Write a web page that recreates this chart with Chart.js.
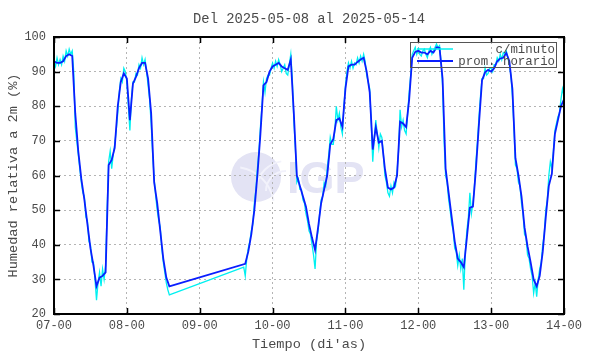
<!DOCTYPE html>
<html>
<head>
<meta charset="utf-8">
<script src="https://cdn.jsdelivr.net/npm/chart.js@4/dist/chart.umd.min.js"></script>
<style>
  html, body { margin: 0; padding: 0; background: #ffffff; }
  #wrap { width: 590px; height: 354px; }
</style>
</head>
<body>
<div id="wrap"><canvas id="c" width="590" height="354"></canvas></div>
<script>
// ---- Data (hours since 2025-05-07 00:00) ----
const titleText = 'Del 2025-05-08 al 2025-05-14';
const xTickLabels = ['07-00','08-00','09-00','10-00','11-00','12-00','13-00','14-00'];
const yTickValues = [20,30,40,50,60,70,80,90,100];
const seriesNames = ['c/minuto', 'prom. horario'];

// hourly average (one value per hour, 0..168), null = no data
const hourlyRH = [
  93,92.5,92.5,93,94.5,95,94.5,78,67,59,
  53,46,39,34,28,30.5,31,32,63,64.5,
  68,80,87,89.5,88,76,86.5,88.5,91,92.5,
  92.5,88,78,58,52,44,36,30.5,28,
  null,null,null,null,null,null,null,null,null,null,null,null,
  null,null,null,null,null,null,null,null,null,null,null,null,
  34.5,38,43,50,60,72,86,87,90,91.5,
  92,92.5,91.5,91,90.5,93.5,78,60,57,54,
  51,46,42,38.5,45,52,56,60,69,70.5,
  76,76.5,74,85,91.5,92,92,92.8,93.5,94,
  90,84,67.5,74,69.5,70,62,56.5,56,56.5,
  60,75.5,75,74,82,94,95.7,96,95.5,95.5,
  95,96,95.5,97,96.8,88,62,55,48,41,
  36,35,33.5,42,50.7,51,62,75,87.5,89.8,
  90.5,90,91,93,93.8,94,95.4,93,85,65,
  60,54,45,39.5,35,30,28,31,38,48,
  57,60.5,72,76,80,82
];

// per-minute readings, sampled every half hour (0, 0.5, 1, ... 168), null = no data
const minuteRH = [
  93,91.5, 94,92, 93.5,92, 94.5,93, 96,94.5, 96.5,95, 96,90, 74,70, 66,62, 58,55,
  54,48, 47,41, 40,35, 35,30, 24,29, 32,28, 33,30, 34,50, 64,67, 62,66,
  69,73, 78,84, 88,87, 91,90, 87,80, 73,82, 87,87, 89.5,89, 92,91, 94,92,
  93.5,90, 86,82, 75,66, 59,54, 50,47, 45,39, 35,32, 29,27, 25.5,
  null,null,null,null,null,null,null,null,null,null,null,null,
  null,null,null,null,null,null,null,null,null,null,null,null,
  null,null,null,null,null,null,null,null,null,null,null,null,
  null,null,null,null,null,null,null,null,null,null,null,null,
  33.5,
  31,36, 39,41, 44,46, 52,56, 62,67, 74,80, 87,84, 88,89, 89,91, 92.5,91,
  93,91.5, 93.5,92, 90,91, 92,89.5, 89,92, 95,88, 76,68, 58,59, 56,56, 53,52,
  49,47, 44,43, 40,37, 33,41, 44,49, 53,54, 58,57, 62,66, 71,69, 69,73,
  80,76, 78,74, 72,80, 86,90, 92.5,91, 93,91, 92.5,92, 94,92.5, 94.5,93, 95,93,
  89,87, 85,75, 64,71, 76,72, 68,72, 71,66, 60,58, 55,54, 57,55, 58,57,
  61,67, 79,74, 76,73, 72,78, 84,89, 95,96, 97,95, 96.5,95, 94.5,96, 96.5,95,
  94,96, 97,95, 96,97, 98,97, 97.5,93, 86,70, 60,58, 53,50, 46,44, 39,38,
  34,37, 33,36, 27,38, 44,48, 55,49, 52,57, 64,70, 77,83, 88,88, 91,89,
  89.5,91, 91,90, 92,92, 94,93, 95,93.5, 95.5,95, 96,94, 92,89, 83,74, 63,62,
  58,57, 52,49, 43,42, 37,36, 33,31, 26,29, 25,30, 33,35, 40,43, 50,53,
  60,64, 62,67, 73,75, 77,78, 82,85, 83
];

const HOUR_STEP = 1, MINUTE_STEP = 0.5;
const hourlyPts = hourlyRH.map((v, i) => ({ x: i * HOUR_STEP, y: v }));
const minutePts = minuteRH.map((v, i) => ({ x: i * MINUTE_STEP, y: v }));

const MONO = '"Liberation Mono", "DejaVu Sans Mono", monospace';
const TXT = '#4a4a4a';

// watermark + title + frame + inward ticks + legend box
const decor = {
  id: 'decor',
  beforeDraw(chart) {
    const ctx = chart.ctx;
    const a = chart.chartArea;
    const cx = (a.left + a.right) / 2 - 53, cy = (a.top + a.bottom) / 2 + 1.5;
    ctx.save();
    ctx.fillStyle = '#e3e3f4';
    ctx.beginPath(); ctx.arc(cx, cy, 25, 0, Math.PI * 2); ctx.fill();
    ctx.strokeStyle = '#f2f2fb'; ctx.lineWidth = 2;
    ctx.beginPath(); ctx.arc(cx + 30, cy + 14, 30, Math.PI * 1.05, Math.PI * 1.45); ctx.stroke();
    ctx.beginPath(); ctx.arc(cx + 30, cy + 14, 20, Math.PI * 1.0, Math.PI * 1.5); ctx.stroke();
    ctx.beginPath(); ctx.arc(cx - 22, cy + 30, 40, Math.PI * 1.55, Math.PI * 1.95); ctx.stroke();
    ctx.fillStyle = '#e3e3f4';
    ctx.font = 'bold 45px "Liberation Sans", Arial, sans-serif';
    ctx.textBaseline = 'alphabetic';
    ctx.fillText('IGP', cx + 31, cy + 16);
    // title centred over the plot area
    ctx.fillStyle = TXT;
    ctx.font = '13.8px ' + MONO;
    ctx.textAlign = 'center'; ctx.textBaseline = 'middle';
    ctx.fillText(titleText, (a.left + a.right) / 2, 19);
    ctx.restore();
  },
  afterDraw(chart) {
    const ctx = chart.ctx;
    const a = chart.chartArea;
    const xs = chart.scales.x, ys = chart.scales.y;
    ctx.save();
    ctx.strokeStyle = '#000'; ctx.lineWidth = 1.5;
    const TL = 6;
    ctx.beginPath();
    xs.ticks.forEach(t => {
      const px = Math.round(xs.getPixelForValue(t.value)) + 0.5;
      ctx.moveTo(px, a.bottom); ctx.lineTo(px, a.bottom - TL);
      ctx.moveTo(px, a.top); ctx.lineTo(px, a.top + TL);
    });
    ys.ticks.forEach(t => {
      const py = Math.round(ys.getPixelForValue(t.value)) + 0.5;
      ctx.moveTo(a.left, py); ctx.lineTo(a.left + TL, py);
      ctx.moveTo(a.right, py); ctx.lineTo(a.right - TL, py);
    });
    ctx.stroke();
    ctx.lineWidth = 2;
    ctx.strokeRect(a.left, a.top, a.right - a.left, a.bottom - a.top);

    // legend box (top right inside plot)
    const bx = a.right - 154, by = a.top + 5, bw = 146, bh = 25;
    ctx.strokeStyle = '#555'; ctx.lineWidth = 1;
    ctx.strokeRect(bx + 0.5, by + 0.5, bw, bh);
    ctx.font = '12.4px ' + MONO;
    ctx.fillStyle = TXT; ctx.textAlign = 'right'; ctx.textBaseline = 'middle';
    const rows = [by + 7, by + 19];
    chart.data.datasets.forEach((ds, i) => {
      ctx.strokeStyle = ds.borderColor; ctx.lineWidth = ds.borderWidth;
      ctx.beginPath(); ctx.moveTo(bx + 7, rows[i]); ctx.lineTo(bx + 43, rows[i]); ctx.stroke();
      ctx.fillText(ds.label, bx + bw - 1, rows[i] + 0.5);
    });
    ctx.restore();
  }
};

new Chart(document.getElementById('c'), {
  type: 'line',
  data: {
    datasets: [
      { label: seriesNames[0], data: minutePts, borderColor: '#00f0f0', borderWidth: 1.3,
        pointRadius: 0, spanGaps: true, tension: 0, order: 2 },
      { label: seriesNames[1], data: hourlyPts, borderColor: '#0a1eff', borderWidth: 1.8,
        pointRadius: 0, spanGaps: true, tension: 0, order: 1 }
    ]
  },
  options: {
    responsive: false,
    animation: false,
    layout: { padding: { left: 0, right: 26, top: 37, bottom: 0 } },
    plugins: {
      legend: { display: false },
      tooltip: { enabled: false },
      title: { display: false }
    },
    scales: {
      x: {
        type: 'linear', min: 0, max: 168,
        afterFit(s) { s.height = 40; },
        afterBuildTicks(s) { s.ticks = xTickLabels.map((l, i) => ({ value: i * 24 })); },
        ticks: {
          color: TXT, font: { family: MONO, size: 12 }, padding: 5, maxRotation: 0,
          callback: (v) => xTickLabels[Math.round(v / 24)]
        },
        grid: { color: '#b4b4b4', lineWidth: 1, drawTicks: false },
        border: { display: false, dash: [2, 3] },
        title: {
          display: true, text: "Tiempo (di'as)", color: TXT,
          font: { family: MONO, size: 13.6, lineHeight: 1.2 },
          padding: { top: 0, bottom: 1 }
        }
      },
      y: {
        min: 20, max: 100,
        afterFit(s) { s.width = 54; },
        afterBuildTicks(s) { s.ticks = yTickValues.map(v => ({ value: v })); },
        ticks: { color: TXT, font: { family: MONO, size: 12 }, padding: 8 },
        grid: { color: '#b4b4b4', lineWidth: 1, drawTicks: false },
        border: { display: false, dash: [2, 3] },
        title: {
          display: true, text: 'Humedad relativa a 2m (%)', color: TXT,
          font: { family: MONO, size: 13.6, lineHeight: 1.2 },
          padding: { top: 5, bottom: 0 }
        }
      }
    }
  },
  plugins: [decor]
});
</script>
</body>
</html>
